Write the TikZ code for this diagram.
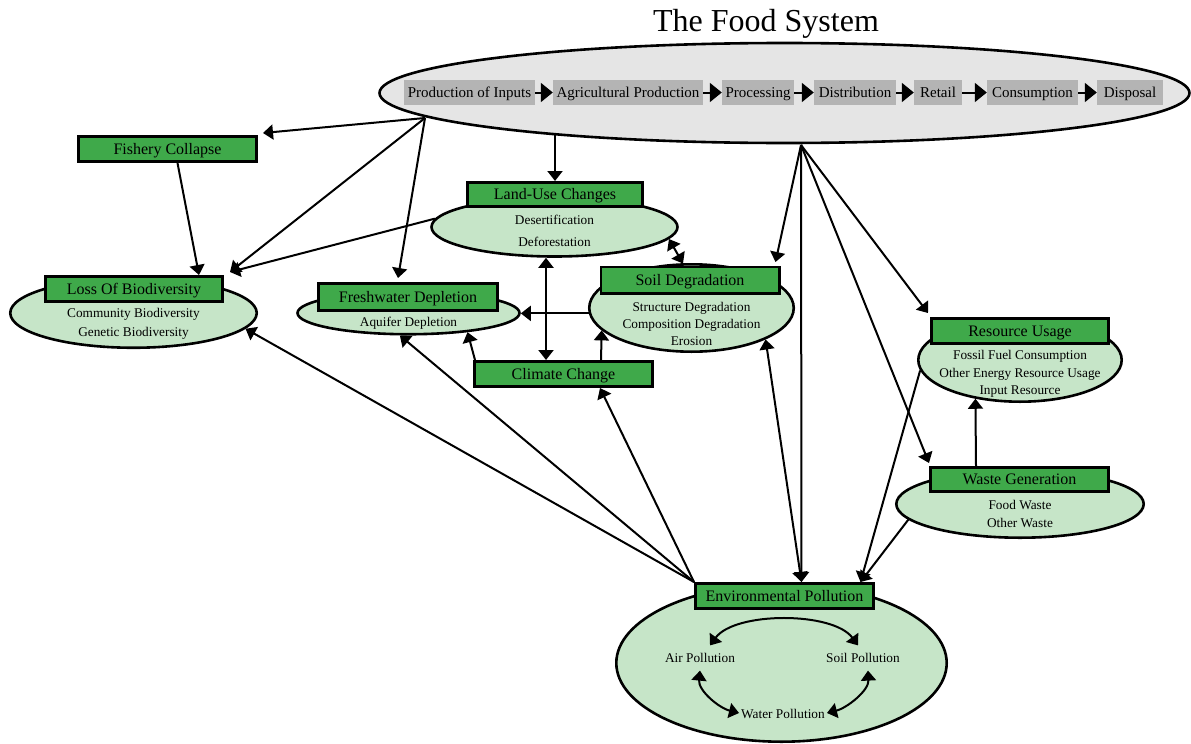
\documentclass[tikz,border=0pt]{standalone}
\usepackage{fontspec}
\setmainfont{Liberation Serif}
\usetikzlibrary{shapes.geometric,arrows.meta,calc}
\pgfdeclarelayer{back}
\pgfsetlayers{back,main}
\definecolor{boxgreen}{HTML}{3FA94A}
\definecolor{ovalgreen}{HTML}{C6E5C8}
\definecolor{ovalgray}{HTML}{E5E5E5}
\definecolor{stagegray}{HTML}{B4B4B4}
\begin{document}
\begin{tikzpicture}[x=1pt,y=-1pt,
  oval/.style={ellipse, draw, line width=2.6pt, fill=ovalgreen, inner sep=0pt},
  topic/.style={draw, line width=2.6pt, fill=boxgreen, inner sep=0pt,
    text height=12.5pt, text depth=2pt, font=\fontsize{16}{19}\selectfont},
  detail/.style={inner sep=0pt, text height=10.8pt, text depth=2pt,
    font=\fontsize{13.3}{16}\selectfont},
  stage/.style={fill=stagegray, inner sep=0pt, minimum height=25pt,
    text height=12pt, text depth=2pt, font=\fontsize{15}{18}\selectfont},
  link/.style={line width=2pt, -{Triangle[length=10pt,width=15pt]}},
  twoway/.style={line width=2pt,
    {Triangle[length=10pt,width=15pt]}-{Triangle[length=10pt,width=15pt]}},
  flow/.style={line width=2pt, -{Triangle[length=12pt,width=19pt]}}
]
\useasboundingbox (0,0) rectangle (1191,744);

% title and the food system chain
\node[inner sep=0pt, font=\fontsize{32}{36}\selectfont] (title) at (766,24) {The Food System};
\node[ellipse, draw, line width=2.6pt, fill=ovalgray, inner sep=0pt,
      minimum width=810pt, minimum height=100pt] (food) at (784.5,93) {};
\node[stage, minimum width=131pt] (s1) at (469.5,92.5) {Production of Inputs};
\node[stage, minimum width=150pt] (s2) at (628,92.5) {Agricultural Production};
\node[stage, minimum width=72pt]  (s3) at (758,92.5) {Processing};
\node[stage, minimum width=82pt]  (s4) at (855,92.5) {Distribution};
\node[stage, minimum width=48pt]  (s5) at (938,92.5) {Retail};
\node[stage, minimum width=91pt]  (s6) at (1032.5,92.5) {Consumption};
\node[stage, minimum width=66pt]  (s7) at (1130,92.5) {Disposal};
\foreach \a/\b in {s1/s2,s2/s3,s3/s4,s4/s5,s5/s6,s6/s7}
  \draw[flow] (\a.east) -- (\b.west);

% impact groups: ellipse, title box, entries
\node[topic, minimum width=178.4pt, minimum height=25.4pt] (fish) at (167.5,149) {Fishery Collapse};

\node[oval, minimum width=246.5pt, minimum height=69.5pt] (lossE) at (133.5,313) {};
\node[topic, minimum width=177.4pt, minimum height=25.4pt] (lossB) at (134,289) {Loss Of Biodiversity};
\node[detail] (loss1) at (133.5,313.5) {Community Biodiversity};
\node[detail] (loss2) at (133.5,332) {Genetic Biodiversity};

\node[oval, minimum width=222pt, minimum height=42.5pt] (freshE) at (408.5,313) {};
\node[topic, minimum width=179.4pt, minimum height=27.4pt] (freshB) at (408,297) {Freshwater Depletion};
\node[detail] (fresh1) at (408.5,322) {Aquifer Depletion};

\node[oval, minimum width=246pt, minimum height=59pt] (landE) at (554.5,227) {};
\node[topic, minimum width=175.4pt, minimum height=24.4pt] (landB) at (555,194.5) {Land-Use Changes};
\node[detail] (land1) at (554.5,220) {Desertification};
\node[detail] (land2) at (554.5,242) {Deforestation};

\node[oval, minimum width=204.5pt, minimum height=87.4pt] (soilE) at (691.5,308) {};
\node[topic, minimum width=178.4pt, minimum height=26.4pt] (soilB) at (690,280) {Soil Degradation};
\node[detail] (soil1) at (691.5,307) {Structure Degradation};
\node[detail] (soil2) at (691.5,324) {Composition Degradation};
\node[detail] (soil3) at (691.5,341) {Erosion};

\node[topic, minimum width=178.4pt, minimum height=25.4pt] (climB) at (563.5,374) {Climate Change};

\node[oval, minimum width=203.4pt, minimum height=83.4pt] (resE) at (1020,360) {};
\node[topic, minimum width=177.4pt, minimum height=25.4pt] (resB) at (1020,331) {Resource Usage};
\node[detail] (res1) at (1020,355) {Fossil Fuel Consumption};
\node[detail] (res2) at (1020,373) {Other Energy Resource Usage};
\node[detail] (res3) at (1020,390) {Input Resource};

\node[oval, minimum width=247.4pt, minimum height=67.4pt] (wasteE) at (1020,504) {};
\node[topic, minimum width=178.4pt, minimum height=24.4pt] (wasteB) at (1019.5,479.5) {Waste Generation};
\node[detail] (waste1) at (1020,505) {Food Waste};
\node[detail] (waste2) at (1020,523) {Other Waste};

\node[oval, minimum width=330.4pt, minimum height=157.4pt] (envE) at (781.5,663) {};
\node[topic, minimum width=178.4pt, minimum height=25.4pt] (envB) at (784.5,596) {Environmental Pollution};
\node[detail] (air) at (700,658) {Air Pollution};
\node[detail] (soilp) at (863,658) {Soil Pollution};
\node[detail] (water) at (783,714) {Water Pollution};

% cycle between the pollution types
\draw[twoway] ($(air.north)+(10,-6)$) .. controls +(25,-34) and +(-25,-34) .. ($(soilp.north)+(-5,-6)$);
\draw[twoway] ($(air.south)+(0,6)$) .. controls +(-2,20) and +(-20,-5) .. ($(water.west)+(-2,-1)$);
\draw[twoway] ($(soilp.south)+(5,6)$) .. controls +(1,20) and +(20,-5) .. ($(water.east)+(2,-1)$);

% connectors, kept behind the shapes
\coordinate (hubL) at (425,118);
\coordinate (hubR) at (801,145);
\begin{pgfonlayer}{back}
  % from the food system
  \draw[link] (hubL) -- ($(fish.north east)+(5,-2)$);
  \draw[link] (hubL) -- ($(lossB.north east)+(6,-3)$);
  \draw[link] (hubL) -- ($(freshB.north)+(-10,-4)$);
  \draw[link] (landB.north |- food.center) -- (landB.north);
  \draw[link] (hubR) -- ($(soilB.north east)+(-5,-3.5)$);
  \draw[link] (hubR) -- ($(envB.north)+(17,0)$);
  \draw[link] (hubR) -- ($(resB.north west)+(-2,-4)$);
  \draw[link] (hubR) -- ($(wasteB.north west)+(0,-3)$);
  % between impacts
  \draw[link] ($(fish.south)+(10,0)$) -- ($(lossB.north)+(65,0)$);
  \draw[link] (landE.176) -- ($(lossB.north east)+(6,-3)$);
  \draw[twoway] (landE.-6) -- ($(soilB.north)+(-7,-2)$);
  \draw[twoway] ($(climB.north)+(-17.5,0)$) -- ($(landE.south)+(-8.5,0)$);
  \draw[link] ($(climB.north)+(37.5,0)$) -- (soilE.-166.5);
  \draw[link] ($(climB.north west)+(2,0)$) -- (freshE.-18);
  \draw[link] (soilE.183.5) -- (freshE.east |- soilE.183.5);
  \draw[twoway] (soilE.-23) -- ($(envB.north)+(17,0)$);
  \draw[link] (resE.186) -- ($(envB.north)+(76,0)$);
  \draw[link] (wasteE.188) -- ($(envB.north)+(76,0)$);
  \draw[link] ($(wasteB.north)+(-43.5,0)$) -- (resE.221.5);
  % from environmental pollution
  \draw[link] (envB.north west) -- (lossE.-8);
  \draw[link] (envB.north west) -- (freshE.-111);
  \draw[link] (envB.north west) -- ($(climB.south)+(36.5,0)$);
\end{pgfonlayer}
\end{tikzpicture}
\end{document}
